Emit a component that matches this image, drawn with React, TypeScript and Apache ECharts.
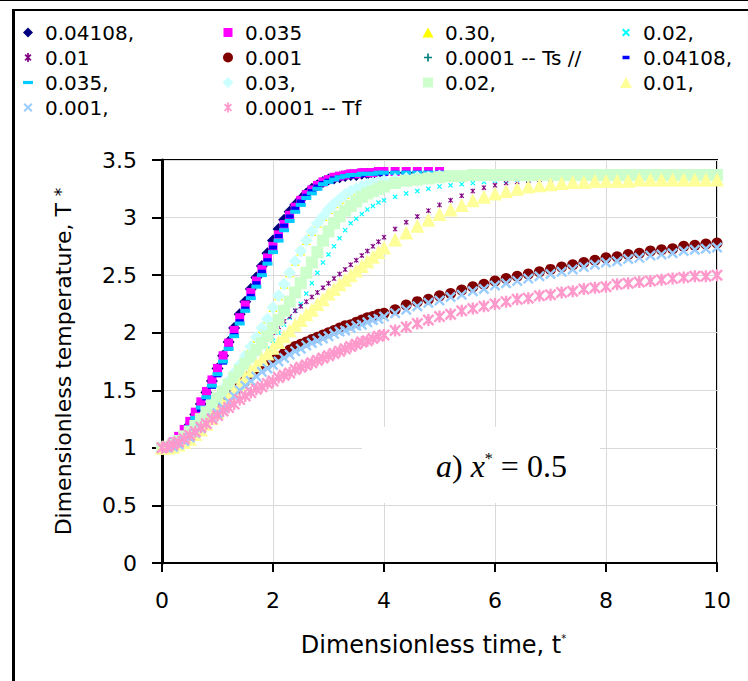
import React, { useEffect, useRef } from "react";
import * as echarts from "echarts";

// ---------- data ----------
const TIME = [
  0, 0.1, 0.2, 0.3, 0.4, 0.5, 0.6, 0.7, 0.8, 0.9,
  1, 1.1, 1.2, 1.3, 1.4, 1.5, 1.6, 1.7, 1.8, 1.9,
  2, 2.1, 2.2, 2.3, 2.4, 2.5, 2.6, 2.7, 2.8, 2.9,
  3, 3.1, 3.2, 3.3, 3.4, 3.5, 3.6, 3.7, 3.8, 3.9,
  4, 4.2, 4.4, 4.6, 4.8, 5, 5.2, 5.4, 5.6, 5.8,
  6, 6.2, 6.4, 6.6, 6.8, 7, 7.2, 7.4, 7.6, 7.8,
  8, 8.2, 8.4, 8.6, 8.8, 9, 9.2, 9.4, 9.6, 9.8, 10,
];

// Ts series
const TS_04108 = [
  1.0, 1.01, 1.03, 1.07, 1.13, 1.2, 1.29, 1.38, 1.48, 1.58,
  1.69, 1.8, 1.92, 2.04, 2.16, 2.27, 2.38, 2.48, 2.58, 2.69,
  2.8, 2.9, 2.98, 3.05, 3.11, 3.16, 3.21, 3.25, 3.28, 3.31,
  3.33, 3.34, 3.35, 3.36, 3.37, 3.37, 3.38, 3.38, 3.38, 3.39,
  3.39, 3.39, 3.39, 3.39, 3.39, 3.39,
];
const TS_035 = [
  1.0, 1.02, 1.05, 1.1, 1.16, 1.23, 1.31, 1.4, 1.49, 1.59,
  1.69, 1.8, 1.91, 2.02, 2.13, 2.24, 2.35, 2.45, 2.55, 2.65,
  2.75, 2.85, 2.94, 3.02, 3.09, 3.15, 3.2, 3.24, 3.28, 3.31,
  3.33, 3.35, 3.36, 3.37, 3.38, 3.38, 3.39, 3.39, 3.39, 3.4,
  3.4, 3.4, 3.4, 3.4, 3.4, 3.4,
];
const TS_030 = [
  1.0, 1.01, 1.03, 1.05, 1.08, 1.12, 1.17, 1.23, 1.29, 1.36,
  1.43, 1.5, 1.57, 1.64, 1.71, 1.79, 1.87, 1.95, 2.03, 2.12,
  2.22, 2.32, 2.42, 2.52, 2.62, 2.71, 2.8, 2.88, 2.95, 3.01,
  3.07, 3.12, 3.16, 3.2, 3.23, 3.25, 3.27, 3.29, 3.3, 3.31,
  3.32, 3.33, 3.34, 3.35, 3.35, 3.35, 3.35, 3.36, 3.36, 3.36,
  3.36, 3.36, 3.36, 3.36, 3.36, 3.36, 3.36, 3.36, 3.36, 3.36,
  3.36, 3.36, 3.36, 3.36, 3.36, 3.36, 3.36, 3.36, 3.36, 3.36, 3.36,
];
const TS_02 = [
  1.0, 1.01, 1.02, 1.04, 1.06, 1.09, 1.13, 1.17, 1.22, 1.27,
  1.32, 1.37, 1.43, 1.49, 1.55, 1.61, 1.67, 1.73, 1.79, 1.86,
  1.93, 2.0, 2.07, 2.13, 2.19, 2.25, 2.34, 2.43, 2.52, 2.61,
  2.68, 2.75, 2.82, 2.89, 2.95, 2.99, 3.03, 3.07, 3.1, 3.13,
  3.15, 3.18, 3.21, 3.23, 3.25, 3.27, 3.28, 3.29, 3.3, 3.31,
  3.32, 3.32, 3.33, 3.33, 3.34, 3.34, 3.35, 3.35, 3.35, 3.35,
  3.36, 3.36, 3.36, 3.36, 3.36, 3.36, 3.36, 3.36, 3.36, 3.36, 3.36,
];
const TS_01 = [
  1.0, 1.01, 1.02, 1.04, 1.07, 1.1, 1.14, 1.19, 1.24, 1.3,
  1.36, 1.44, 1.52, 1.6, 1.67, 1.74, 1.8, 1.85, 1.9, 1.95,
  2.0, 2.05, 2.1, 2.14, 2.19, 2.23, 2.27, 2.31, 2.35, 2.39,
  2.43, 2.47, 2.51, 2.55, 2.59, 2.63, 2.67, 2.71, 2.75, 2.79,
  2.83, 2.9, 2.96, 3.01, 3.06, 3.11, 3.15, 3.19, 3.23, 3.26,
  3.28, 3.3, 3.31, 3.32, 3.33, 3.33, 3.34, 3.34, 3.34, 3.35,
  3.35, 3.35, 3.35, 3.35, 3.35, 3.35, 3.35, 3.35, 3.35, 3.35, 3.35,
];
const TS_001 = [
  1.0, 1.01, 1.02, 1.04, 1.07, 1.1, 1.14, 1.18, 1.23, 1.28,
  1.33, 1.38, 1.43, 1.48, 1.53, 1.58, 1.63, 1.67, 1.7, 1.73,
  1.76, 1.79, 1.82, 1.85, 1.88, 1.9, 1.92, 1.94, 1.96, 1.98,
  2.0, 2.02, 2.04, 2.06, 2.07, 2.09, 2.11, 2.13, 2.14, 2.16,
  2.17, 2.2, 2.24, 2.27, 2.29, 2.32, 2.34, 2.37, 2.4, 2.42,
  2.45, 2.47, 2.49, 2.51, 2.53, 2.55, 2.57, 2.59, 2.61, 2.63,
  2.65, 2.66, 2.68, 2.69, 2.71, 2.72, 2.73, 2.75, 2.76, 2.77, 2.78,
];
const TS_0001 = [
  1.0, 1.01, 1.03, 1.06, 1.09, 1.12, 1.15, 1.19, 1.22, 1.26,
  1.29, 1.33, 1.36, 1.39, 1.43, 1.46, 1.49, 1.52, 1.54, 1.57,
  1.59, 1.62, 1.64, 1.66, 1.69, 1.71, 1.73, 1.75, 1.77, 1.79,
  1.81, 1.83, 1.85, 1.87, 1.89, 1.91, 1.93, 1.94, 1.96, 1.98,
  1.99, 2.03, 2.06, 2.09, 2.12, 2.15, 2.17, 2.2, 2.22, 2.24,
  2.26, 2.28, 2.3, 2.31, 2.33, 2.34, 2.36, 2.37, 2.39, 2.4,
  2.41, 2.43, 2.44, 2.45, 2.46, 2.47, 2.48, 2.49, 2.5, 2.5, 2.51,
];

// Tf series
const TF_04108 = [
  1.0, 1.0, 1.02, 1.05, 1.1, 1.16, 1.24, 1.33, 1.43, 1.53,
  1.63, 1.74, 1.86, 1.98, 2.1, 2.21, 2.32, 2.43, 2.53, 2.63,
  2.74, 2.84, 2.93, 3.01, 3.08, 3.14, 3.19, 3.23, 3.27, 3.3,
  3.32, 3.34, 3.35, 3.36, 3.36, 3.37, 3.37, 3.38, 3.38, 3.38,
  3.38, 3.39, 3.39, 3.39, 3.39, 3.39,
];
const TF_035 = [
  1.0, 1.01, 1.03, 1.07, 1.12, 1.18, 1.26, 1.35, 1.44, 1.54,
  1.64, 1.75, 1.86, 1.97, 2.08, 2.19, 2.3, 2.4, 2.5, 2.6,
  2.7, 2.8, 2.89, 2.97, 3.05, 3.11, 3.17, 3.21, 3.25, 3.29,
  3.31, 3.33, 3.35, 3.36, 3.37, 3.37, 3.38, 3.38, 3.38, 3.39,
  3.39, 3.39, 3.39, 3.39, 3.39, 3.39,
];
const TF_03 = [
  1.0, 1.01, 1.03, 1.05, 1.08, 1.12, 1.17, 1.23, 1.3, 1.37,
  1.44, 1.51, 1.58, 1.65, 1.72, 1.8, 1.88, 1.96, 2.04, 2.12,
  2.22, 2.32, 2.42, 2.52, 2.62, 2.71, 2.8, 2.88, 2.95, 3.01,
  3.07, 3.12, 3.16, 3.2, 3.23, 3.25, 3.27, 3.29, 3.3, 3.31,
  3.32, 3.33, 3.34, 3.35, 3.35, 3.36, 3.36, 3.36, 3.36, 3.36,
  3.36, 3.36, 3.36, 3.36, 3.36, 3.36, 3.36, 3.36, 3.36, 3.36,
  3.36, 3.36, 3.36, 3.36, 3.36, 3.36, 3.36, 3.36, 3.36, 3.36, 3.36,
];
const TF_02 = [
  1.0, 1.01, 1.03, 1.06, 1.1, 1.14, 1.19, 1.25, 1.31, 1.37,
  1.43, 1.49, 1.55, 1.61, 1.67, 1.73, 1.79, 1.85, 1.91, 1.97,
  2.04, 2.11, 2.19, 2.27, 2.35, 2.43, 2.52, 2.61, 2.7, 2.8,
  2.88, 2.95, 3.01, 3.06, 3.1, 3.14, 3.18, 3.21, 3.23, 3.25,
  3.27, 3.3, 3.32, 3.33, 3.34, 3.35, 3.36, 3.36, 3.37, 3.37,
  3.37, 3.37, 3.37, 3.37, 3.37, 3.37, 3.37, 3.37, 3.37, 3.37,
  3.37, 3.37, 3.37, 3.37, 3.37, 3.37, 3.37, 3.37, 3.37, 3.37, 3.37,
];
const TF_01 = [
  1.0, 1.0, 1.01, 1.03, 1.05, 1.08, 1.12, 1.16, 1.21, 1.26,
  1.31, 1.37, 1.43, 1.49, 1.55, 1.61, 1.67, 1.72, 1.77, 1.82,
  1.87, 1.92, 1.97, 2.02, 2.07, 2.11, 2.16, 2.2, 2.25, 2.29,
  2.34, 2.38, 2.42, 2.46, 2.5, 2.54, 2.58, 2.62, 2.66, 2.7,
  2.74, 2.81, 2.87, 2.93, 2.98, 3.03, 3.07, 3.11, 3.15, 3.18,
  3.21, 3.23, 3.25, 3.27, 3.28, 3.29, 3.3, 3.31, 3.31, 3.32,
  3.32, 3.32, 3.32, 3.33, 3.33, 3.33, 3.33, 3.33, 3.33, 3.33, 3.33,
];
const TF_001 = [
  1.0, 1.0, 1.01, 1.03, 1.06, 1.09, 1.13, 1.17, 1.21, 1.26,
  1.3, 1.35, 1.4, 1.45, 1.5, 1.54, 1.58, 1.62, 1.66, 1.69,
  1.72, 1.75, 1.78, 1.81, 1.84, 1.86, 1.89, 1.91, 1.93, 1.95,
  1.97, 1.99, 2.01, 2.02, 2.04, 2.06, 2.07, 2.09, 2.11, 2.12,
  2.14, 2.17, 2.2, 2.23, 2.26, 2.28, 2.31, 2.33, 2.36, 2.38,
  2.41, 2.43, 2.45, 2.47, 2.49, 2.51, 2.53, 2.55, 2.57, 2.59,
  2.61, 2.62, 2.64, 2.65, 2.67, 2.68, 2.69, 2.71, 2.72, 2.73, 2.74,
];
const TF_0001 = [
  1.0, 1.01, 1.03, 1.05, 1.08, 1.11, 1.14, 1.18, 1.21, 1.25,
  1.28, 1.32, 1.35, 1.38, 1.42, 1.45, 1.48, 1.51, 1.53, 1.56,
  1.58, 1.61, 1.63, 1.65, 1.68, 1.7, 1.72, 1.74, 1.76, 1.78,
  1.8, 1.82, 1.84, 1.86, 1.88, 1.9, 1.92, 1.93, 1.95, 1.97,
  1.98, 2.02, 2.05, 2.08, 2.11, 2.14, 2.16, 2.19, 2.21, 2.23,
  2.25, 2.27, 2.29, 2.3, 2.32, 2.33, 2.35, 2.36, 2.38, 2.39,
  2.4, 2.42, 2.43, 2.44, 2.45, 2.46, 2.47, 2.48, 2.49, 2.49, 2.5,
];

const LEGEND_LABELS = [
  "0.04108,", "0.035", "0.30,", "0.02,", "0.01", "0.001", "0.0001 -- Ts //",
  "0.04108,", "0.035,", "0.03,", "0.02,", "0.01,", "0.001,", "0.0001 -- Tf",
];
const SERIES_VALUES = [
  TS_04108, TS_035, TS_030, TS_02, TS_01, TS_001, TS_0001,
  TF_04108, TF_035, TF_03, TF_02, TF_01, TF_001, TF_0001,
];
const X_TICKS = { min: 0, max: 10, interval: 2 };
const Y_TICKS = { min: 0, max: 3.5, interval: 0.5 };

// ---------- shapes ----------
const r2 = (n: number) => Math.round(n * 100) / 100;
function xShape(cx: number, cy: number, s: number, w: number) {
  const k = w / Math.SQRT2;
  return (
    `M${r2(cx - s)},${r2(cy - s + k)}L${r2(cx - s + k)},${r2(cy - s)}L${r2(cx + s)},${r2(cy + s - k)}L${r2(cx + s - k)},${r2(cy + s)}Z` +
    `M${r2(cx + s - k)},${r2(cy - s)}L${r2(cx + s)},${r2(cy - s + k)}L${r2(cx - s + k)},${r2(cy + s)}L${r2(cx - s)},${r2(cy + s - k)}Z`
  );
}
function vBar(cx: number, cy: number, s: number, w: number) {
  const h = w / 2;
  return `M${r2(cx - h)},${r2(cy - s)}L${r2(cx + h)},${r2(cy - s)}L${r2(cx + h)},${r2(cy + s)}L${r2(cx - h)},${r2(cy + s)}Z`;
}
function hBar(cx: number, cy: number, s: number, w: number) {
  const h = w / 2;
  return `M${r2(cx - s)},${r2(cy - h)}L${r2(cx + s)},${r2(cy - h)}L${r2(cx + s)},${r2(cy + h)}L${r2(cx - s)},${r2(cy + h)}Z`;
}
function diamond(cx: number, cy: number, rx: number, ry: number) {
  return `M${cx},${cy - ry}L${cx + rx},${cy}L${cx},${cy + ry}L${cx - rx},${cy}Z`;
}
function square(cx: number, cy: number, h: number) {
  return `M${cx - h},${cy - h}L${cx + h},${cy - h}L${cx + h},${cy + h}L${cx - h},${cy + h}Z`;
}
function triangle(cx: number, cy: number, hw: number, hh: number) {
  return `M${cx},${cy - hh}L${cx + hw},${cy + hh}L${cx - hw},${cy + hh}Z`;
}
function circle(cx: number, cy: number, r: number) {
  return `M${cx - r},${cy}A${r},${r},0,1,1,${cx + r},${cy}A${r},${r},0,1,1,${cx - r},${cy}Z`;
}
const FRAME = "path://M0,0M24,12";

const STYLES = [
  { color: "#000080", symbol: "diamond", size: 12, icon: diamond(12, 6, 5, 5) },
  { color: "#FF00FF", symbol: "rect", size: 9, icon: square(12, 6, 4.5) },
  { color: "#FFFF00", symbol: "triangle", size: 9, icon: triangle(12, 6, 5.5, 5) },
  { color: "#00FFFF", symbol: "path://" + xShape(5, 5, 5, 2.4), size: 5, icon: xShape(12, 6, 4, 2) },
  { color: "#800080", symbol: "path://" + xShape(5, 5, 5, 2) + vBar(5, 5, 5, 2), size: 5, icon: xShape(12, 6, 3.5, 1.7) + vBar(12, 6, 4.5, 1.7) },
  { color: "#800000", symbol: "circle", size: 11, icon: circle(12, 6, 5) },
  { color: "#008080", symbol: "path://" + vBar(5, 5, 5, 2.6) + hBar(5, 5, 5, 2.6), size: 5, icon: vBar(12, 6, 4, 1.7) + hBar(12, 6, 4, 1.7) },
  { color: "#0000FF", symbol: "rect", size: [8, 4], icon: hBar(12, 6, 3.5, 3.5) },
  { color: "#00CCFF", symbol: "rect", size: [10, 4], icon: hBar(12, 6, 5, 3.2) },
  { color: "#CCFFFF", symbol: "diamond", size: 13, icon: diamond(12, 6, 5.5, 5.5) },
  { color: "#CCFFCC", symbol: "rect", size: 12, icon: square(12, 6, 5) },
  { color: "#FFFF99", symbol: "triangle", size: 14, icon: triangle(12, 6, 6, 5.5) },
  { color: "#99CCFF", symbol: "path://" + xShape(5, 5, 5, 2.2), size: 11, icon: xShape(12, 6, 4.5, 2) },
  { color: "#FF99CC", symbol: "path://" + xShape(5, 5, 5, 2) + vBar(5, 5, 5, 2), size: 12, icon: xShape(12, 6, 4, 1.8) + vBar(12, 6, 5, 1.8) },
];

const SANS = "DejaVu Sans";
const SERIF = "Liberation Serif";

export default function App() {
  const ref = useRef<HTMLDivElement>(null);

  useEffect(() => {
    if (!ref.current) return;
    const chart = echarts.init(ref.current, null, { renderer: "svg" });
    const names = LEGEND_LABELS.map((_, i) => `s${i}`);
    const labelOf: Record<string, string> = {};
    names.forEach((n, i) => (labelOf[n] = LEGEND_LABELS[i]));

    const series = SERIES_VALUES.map((vals, i) => ({
      type: "scatter",
      name: names[i],
      data: vals.map((v, j) => [TIME[j], v]),
      symbol: STYLES[i].symbol,
      symbolSize: STYLES[i].size,
      itemStyle: { color: STYLES[i].color, opacity: 1 },
      silent: true,
      emphasis: { disabled: true },
    }));

    const columns = [
      { left: 16, items: [0, 4, 8, 12] },
      { left: 216, items: [1, 5, 9, 13] },
      { left: 416, items: [2, 6, 10] },
      { left: 614, items: [3, 7, 11] },
    ];
    const legend = columns.map((c) => ({
      orient: "vertical",
      left: c.left,
      top: 20,
      padding: 0,
      itemGap: 0,
      itemWidth: 24,
      itemHeight: 12,
      selectedMode: false,
      formatter: (n: string) => labelOf[n],
      textStyle: { fontFamily: SANS, fontSize: 20, color: "#000", lineHeight: 25 },
      data: c.items.map((i) => ({ name: names[i], icon: FRAME + STYLES[i].icon })),
    }));

    const axisCommon = {
      type: "value",
      nameLocation: "middle",
      axisLabel: { fontFamily: SANS, fontSize: 22, color: "#000" },
      splitLine: { show: true, lineStyle: { color: "#d9d9d9", width: 1 } },
    };

    chart.setOption({
      animation: false,
      backgroundColor: "#fff",
      grid: {
        left: 162, right: 31, top: 160, bottom: 118,
        show: true, borderColor: "#000", borderWidth: 2,
        outerBoundsMode: "none",
      },
      legend,
      xAxis: {
        ...axisCommon,
        min: X_TICKS.min, max: X_TICKS.max, interval: X_TICKS.interval,
        axisLine: { show: true, onZero: false, lineStyle: { color: "#000", width: 2 } },
        axisTick: { show: true, inside: false, length: 9, lineStyle: { color: "#000", width: 2 } },
        axisLabel: { ...axisCommon.axisLabel, margin: 26 },
        name: "{m|Dimensionless time, t}{s|*}",
        nameGap: 70,
        nameTextStyle: {
          padding: [0, 12, 0, 0],
          rich: {
            m: { fontFamily: SANS, fontSize: 24, color: "#000" },
            s: { fontFamily: SANS, fontSize: 10, color: "#000", verticalAlign: "top" },
          },
        },
      },
      yAxis: {
        ...axisCommon,
        min: Y_TICKS.min, max: Y_TICKS.max, interval: Y_TICKS.interval,
        axisLine: { show: true, onZero: false, lineStyle: { color: "#000", width: 3 } },
        axisTick: { show: true, inside: false, length: 10, lineStyle: { color: "#000", width: 2 } },
        axisLabel: { ...axisCommon.axisLabel, margin: 25 },
        name: "{m|Dimensionless temperature, T }{s|*}",
        nameGap: 88,
        nameTextStyle: {
          rich: {
            m: { fontFamily: SANS, fontSize: 22, color: "#000" },
            s: { fontFamily: SANS, fontSize: 17, color: "#000", verticalAlign: "top" },
          },
        },
      },
      graphic: [
        { type: "line", z: 10, shape: { x1: 0, y1: 0.5, x2: 748, y2: 0.5 }, style: { stroke: "#000", lineWidth: 1 } },
        { type: "line", z: 10, shape: { x1: 12, y1: 10, x2: 748, y2: 10 }, style: { stroke: "#000", lineWidth: 2 } },
        { type: "line", z: 10, shape: { x1: 13.5, y1: 9, x2: 13.5, y2: 681 }, style: { stroke: "#000", lineWidth: 3 } },
        { type: "rect", z: 1, shape: { x: 362, y: 427, width: 238, height: 76 }, style: { fill: "#fff" } },
        {
          type: "text", z: 3, x: 436, y: 466,
          style: {
            text: "{i|a}{n|) }{i|x}{s|*}{n| = 0.5}",
            verticalAlign: "middle",
            fill: "#000",
            rich: {
              i: { fontFamily: SERIF, fontSize: 32, fontStyle: "italic", fill: "#000" },
              n: { fontFamily: SERIF, fontSize: 32, fill: "#000" },
              s: { fontFamily: SERIF, fontSize: 16, fill: "#000", verticalAlign: "top" },
            },
          },
        },
      ],
      series,
    });
    return () => chart.dispose();
  }, []);

  return (
    <div
      ref={ref}
      style={{ position: "absolute", left: 0, top: 0, width: 748, height: 681, background: "#fff" }}
    />
  );
}
